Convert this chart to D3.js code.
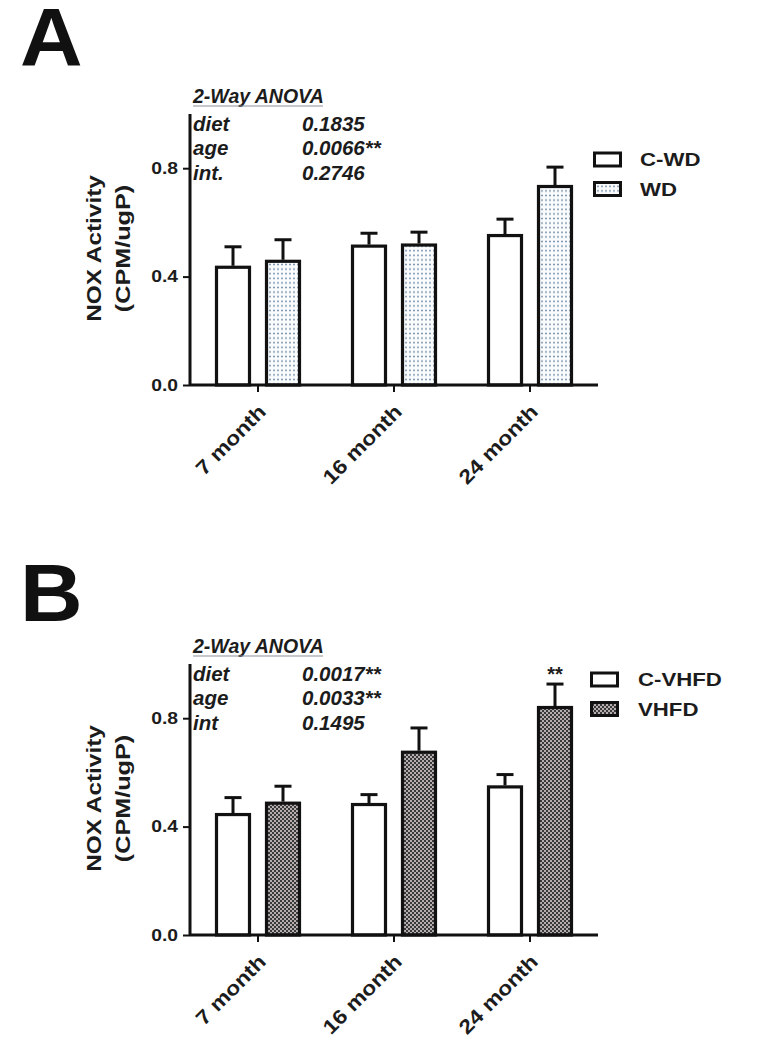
<!DOCTYPE html>
<html><head><meta charset="utf-8">
<script src="https://cdn.jsdelivr.net/npm/d3@7"></script>
<style>
body{margin:0;background:#fff;}
text{font-family:"Liberation Sans",Arial,sans-serif;font-weight:bold;fill:#1c1c1c;}
</style></head>
<body><svg id="c" width="757" height="1050"></svg>
<script>
const categories = ["7 month","16 month","24 month"];
const yTicks = [0.0, 0.4, 0.8];
// Panel A
const seriesA = ["C-WD","WD"];
const cwdMean = [0.44, 0.518, 0.557];
const cwdErr  = [0.07, 0.042, 0.055];
const wdMean  = [0.462, 0.522, 0.738];
const wdErr   = [0.074, 0.042, 0.066];
const anovaA = [["diet","0.1835"],["age","0.0066**"],["int.","0.2746"]];
// Panel B
const seriesB = ["C-VHFD","VHFD"];
const cvhfdMean = [0.45, 0.487, 0.552];
const cvhfdErr  = [0.057, 0.031, 0.04];
const vhfdMean  = [0.492, 0.68, 0.845];
const vhfdErr   = [0.057, 0.084, 0.081];
const anovaB = [["diet","0.0017**"],["age","0.0033**"],["int","0.1495"]];
const yLabel1 = "NOX Activity", yLabel2 = "(CPM/ugP)";

const svg = d3.select("#c");
const defs = svg.append("defs");
// dotted pattern
const pd = defs.append("pattern").attr("id","dots").attr("patternUnits","userSpaceOnUse")
  .attr("width",4).attr("height",4.6);
pd.append("rect").attr("width",4).attr("height",4.6).attr("fill","#fafbfc");
pd.append("circle").attr("cx",2).attr("cy",2.3).attr("r",1).attr("fill","#7590aa");
// checker pattern
const pc = defs.append("pattern").attr("id","check").attr("patternUnits","userSpaceOnUse")
  .attr("width",4).attr("height",4);
pc.append("rect").attr("width",4).attr("height",4).attr("fill","#b7aeac");
pc.append("rect").attr("width",2).attr("height",2).attr("fill","#38393c");
pc.append("rect").attr("x",2).attr("y",2).attr("width",2).attr("height",2).attr("fill","#38393c");

// natural width helper -> stretch text horizontally by factor
function stretch(sel, factor){
  sel.each(function(){
    const w = this.getComputedTextLength();
    d3.select(this).attr("textLength", w*factor).attr("lengthAdjust","spacingAndGlyphs");
  });
  return sel;
}

function panel(opt){
  const g = svg.append("g");
  const left = 190, right = 598, base = opt.base, top = base - 271;
  const y = d3.scaleLinear().domain([0,1]).range([base, top]);
  const x0 = d3.scaleBand().domain(categories).range([left, right]).padding(0);
  const x1 = d3.scaleBand().domain(opt.series).range([-43, 43]).paddingInner(0.28).paddingOuter(0);
  const data = [];
  categories.forEach((c,i)=>{
    data.push({c, s:opt.series[0], v:opt.m0[i], e:opt.e0[i], fill:"#fff"});
    data.push({c, s:opt.series[1], v:opt.m1[i], e:opt.e1[i], fill:opt.fill});
  });
  // panel letter
  stretch(g.append("text").attr("x",opt.letterX).attr("y",opt.letterY).attr("font-size",81)
    .text(opt.letter).style("fill","#111"), 1.07);
  // error bars
  const bw = x1.bandwidth();
  data.forEach(d=>{
    const cx = x0(d.c) + x0.bandwidth()/2 + x1(d.s) + bw/2;
    g.append("line").attr("x1",cx).attr("x2",cx).attr("y1",y(d.v)).attr("y2",y(d.v+d.e))
      .attr("stroke","#111").attr("stroke-width",3);
    g.append("line").attr("x1",cx-8.5).attr("x2",cx+8.5).attr("y1",y(d.v+d.e)).attr("y2",y(d.v+d.e))
      .attr("stroke","#111").attr("stroke-width",3);
  });
  // bars
  g.selectAll("rect.bar").data(data).enter().append("rect").attr("class","bar")
    .attr("x",d=>x0(d.c)+x0.bandwidth()/2+x1(d.s)+1.5)
    .attr("width",bw-3)
    .attr("y",d=>y(d.v)+1.5)
    .attr("height",d=>base-y(d.v)-1.5)
    .attr("fill",d=>d.fill).attr("stroke","#111").attr("stroke-width",3.2);
  // axes
  const ya = g.append("g").attr("transform",`translate(${left},0)`)
    .call(d3.axisLeft(y).tickValues(yTicks).tickFormat(d3.format(".1f")).tickSize(7).tickPadding(5));
  ya.select(".domain").attr("stroke","#111").attr("stroke-width",3).attr("d",`M0,${base}V${top}`);
  ya.selectAll(".tick line").attr("stroke","#111").attr("stroke-width",2);
  ya.selectAll(".tick text").attr("font-size",16.5).style("fill","#1c1c1c")
    .attr("font-family","'Liberation Sans',Arial,sans-serif").attr("font-weight","bold");
  stretch(ya.selectAll(".tick text"), 1.17);
  const xa = g.append("g").attr("transform",`translate(0,${base})`)
    .call(d3.axisBottom(x0).tickSize(7).tickFormat(""));
  xa.select(".domain").attr("stroke","#111").attr("stroke-width",3).attr("d",`M${left},0H${right}`);
  xa.selectAll(".tick line").attr("stroke","#111").attr("stroke-width",2);
  categories.forEach(c=>{
    const tx = x0(c)+x0.bandwidth()/2;
    const t = g.append("text").attr("transform",`translate(${tx-1},${base+18}) rotate(-45)`)
      .attr("text-anchor","end").attr("dy","0.72em").attr("font-size",20).text(c);
    stretch(t, 1.15);
  });
  // y labels
  const ym = base - 136.5;
  stretch(g.append("text").attr("transform",`translate(101,${ym}) rotate(-90)`).attr("text-anchor","middle")
    .attr("font-size",21).text(yLabel1), 1.16);
  stretch(g.append("text").attr("transform",`translate(129.5,${ym}) rotate(-90)`).attr("text-anchor","middle")
    .attr("font-size",21).text(yLabel2), 1.2);
  // ANOVA annotation
  const at = opt.anovaY;
  g.append("text").attr("x",193).attr("y",at).attr("font-size",19.5).attr("font-style","italic")
    .text("2-Way ANOVA");
  g.append("line").attr("x1",193).attr("x2",323).attr("y1",at+3).attr("y2",at+3)
    .attr("stroke","#8a8f99").attr("stroke-width",1);
  opt.anova.forEach((r,i)=>{
    g.append("text").attr("x",193).attr("y",at+27.5+24.5*i).attr("font-size",20.5).attr("font-style","italic").text(r[0]);
    g.append("text").attr("x",302).attr("y",at+27.5+24.5*i).attr("font-size",20.5).attr("font-style","italic").text(r[1]);
  });
  // significance star
  if(opt.star){
    const d = data[5];
    const cx = x0(d.c)+x0.bandwidth()/2+x1(d.s)+bw/2;
    g.append("text").attr("x",cx).attr("y",y(d.v+d.e)-3).attr("text-anchor","middle")
      .attr("font-size",20).text(opt.star);
  }
  // legend
  opt.series.forEach((s,i)=>{
    const ly = opt.legY + 29.5*i;
    g.append("rect").attr("x",opt.legX).attr("y",ly-6.5).attr("width",26).attr("height",13)
      .attr("fill", i===0?"#fff":opt.fill).attr("stroke","#111").attr("stroke-width",3);
    stretch(g.append("text").attr("x",opt.textX).attr("y",ly).attr("dy","0.36em").attr("font-size",18.5).text(s), 1.2);
  });
}

panel({letter:"A", letterX:20, letterY:65, base:385, series:seriesA, m0:cwdMean, e0:cwdErr, m1:wdMean, e1:wdErr,
  fill:"url(#dots)", anova:anovaA, anovaY:103, legX:594.5, textX:640, legY:159.5});
panel({letter:"B", letterX:20, letterY:621, base:935, series:seriesB, m0:cvhfdMean, e0:cvhfdErr, m1:vhfdMean, e1:vhfdErr,
  fill:"url(#check)", anova:anovaB, anovaY:653, legX:591.5, textX:638, legY:679.5, star:"**"});
</script></body></html>
